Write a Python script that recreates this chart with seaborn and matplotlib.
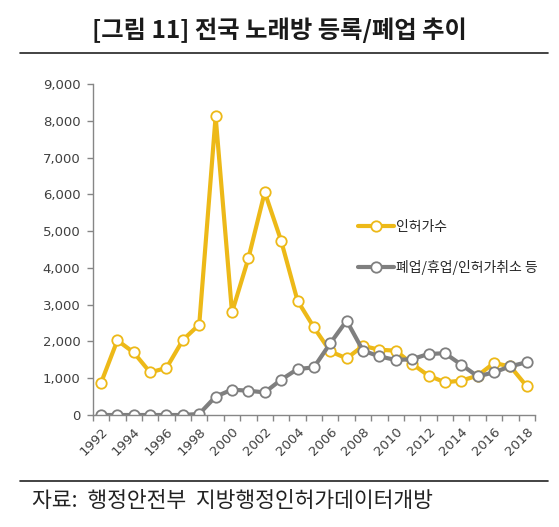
import matplotlib
matplotlib.use("Agg")

import matplotlib.pyplot as plt
import pandas as pd
import seaborn as sns
from matplotlib.ticker import FixedLocator

# Data
years = list(range(1992, 2019))
permits = [870, 2030, 1700, 1160, 1280, 2040, 2460, 8120, 2790, 4260, 6060,
           4740, 3110, 2385, 1730, 1540, 1880, 1775, 1750, 1390, 1070, 890,
           935, 1070, 1415, 1320, 780]
closures = [0, 0, 0, 0, 0, 0, 30, 500, 690, 660, 615, 960, 1250, 1295, 1950,
            2565, 1750, 1595, 1495, 1520, 1660, 1680, 1370, 1050, 1160, 1325,
            1435]
y_ticks = list(range(0, 9001, 1000))
series_names = ["인허가수", "폐업/휴업/인허가취소 등"]
series_colors = ["#EDB918", "#7F7F7F"]

sns.set_style("white")
plt.rcParams["font.family"] = ["Noto Sans CJK KR", "DejaVu Sans"]

df = pd.DataFrame({"idx": range(len(years)), "year": years,
                   series_names[0]: permits, series_names[1]: closures})

fig = plt.figure(figsize=(5.59, 5.27), dpi=100)
ax = fig.add_axes([0.166, 0.2125, 0.791, 0.628])

for name, color in zip(series_names, series_colors):
    sns.lineplot(data=df, x="idx", y=name, ax=ax, color=color, linewidth=3,
                 marker="o", markersize=7.5, markerfacecolor="white",
                 markeredgecolor=color, markeredgewidth=1.3, label=name)

ax.set_xlim(-0.5, len(years) - 0.5)
ax.set_ylim(0, 9000)
ax.set_yticks(y_ticks)
ax.set_yticklabels([f"{v:,}" for v in y_ticks], family="DejaVu Sans")

ax.xaxis.set_major_locator(FixedLocator(list(range(0, len(years), 2))))
ax.set_xticklabels([str(y) for y in years[::2]], rotation=45, ha="right",
                   rotation_mode="anchor", family="DejaVu Sans")
ax.xaxis.set_minor_locator(FixedLocator([i - 0.5 for i in range(len(years) + 1)]))
ax.tick_params(axis="x", which="major", length=0, labelsize=9.5, colors="#404040", pad=7)
ax.tick_params(axis="x", which="minor", length=4, width=1, color="#868686", direction="out", bottom=True)
ax.tick_params(axis="y", length=4, width=1, color="#868686", direction="out",
               labelsize=9.5, labelcolor="#404040", left=True, pad=5)
ax.set_xlabel("")
ax.set_ylabel("")

for s in ["top", "right"]:
    ax.spines[s].set_visible(False)
for s in ["left", "bottom"]:
    ax.spines[s].set_color("#868686")
    ax.spines[s].set_linewidth(1)

ax.legend(loc="upper left", bbox_to_anchor=(0.572, 0.628), frameon=False,
          fontsize=10, labelspacing=1.9, handlelength=2.6, handletextpad=0.15)

fig.text(0.5, 0.943, "[그림 11] 전국 노래방 등록/폐업 추이", ha="center", va="center",
         fontsize=17.5, fontweight="bold", color="#1a1a1a")
fig.add_artist(plt.Line2D([0.036, 0.98], [0.899, 0.899], color="#222222", linewidth=1.2))
fig.add_artist(plt.Line2D([0.036, 0.98], [0.087, 0.087], color="#222222", linewidth=1.2))
fig.text(0.057, 0.049, "자료:  행정안전부  지방행정인허가데이터개방", ha="left", va="center",
         fontsize=15.5, color="#222222")

plt.savefig("out.png", dpi=100)
plt.close()
